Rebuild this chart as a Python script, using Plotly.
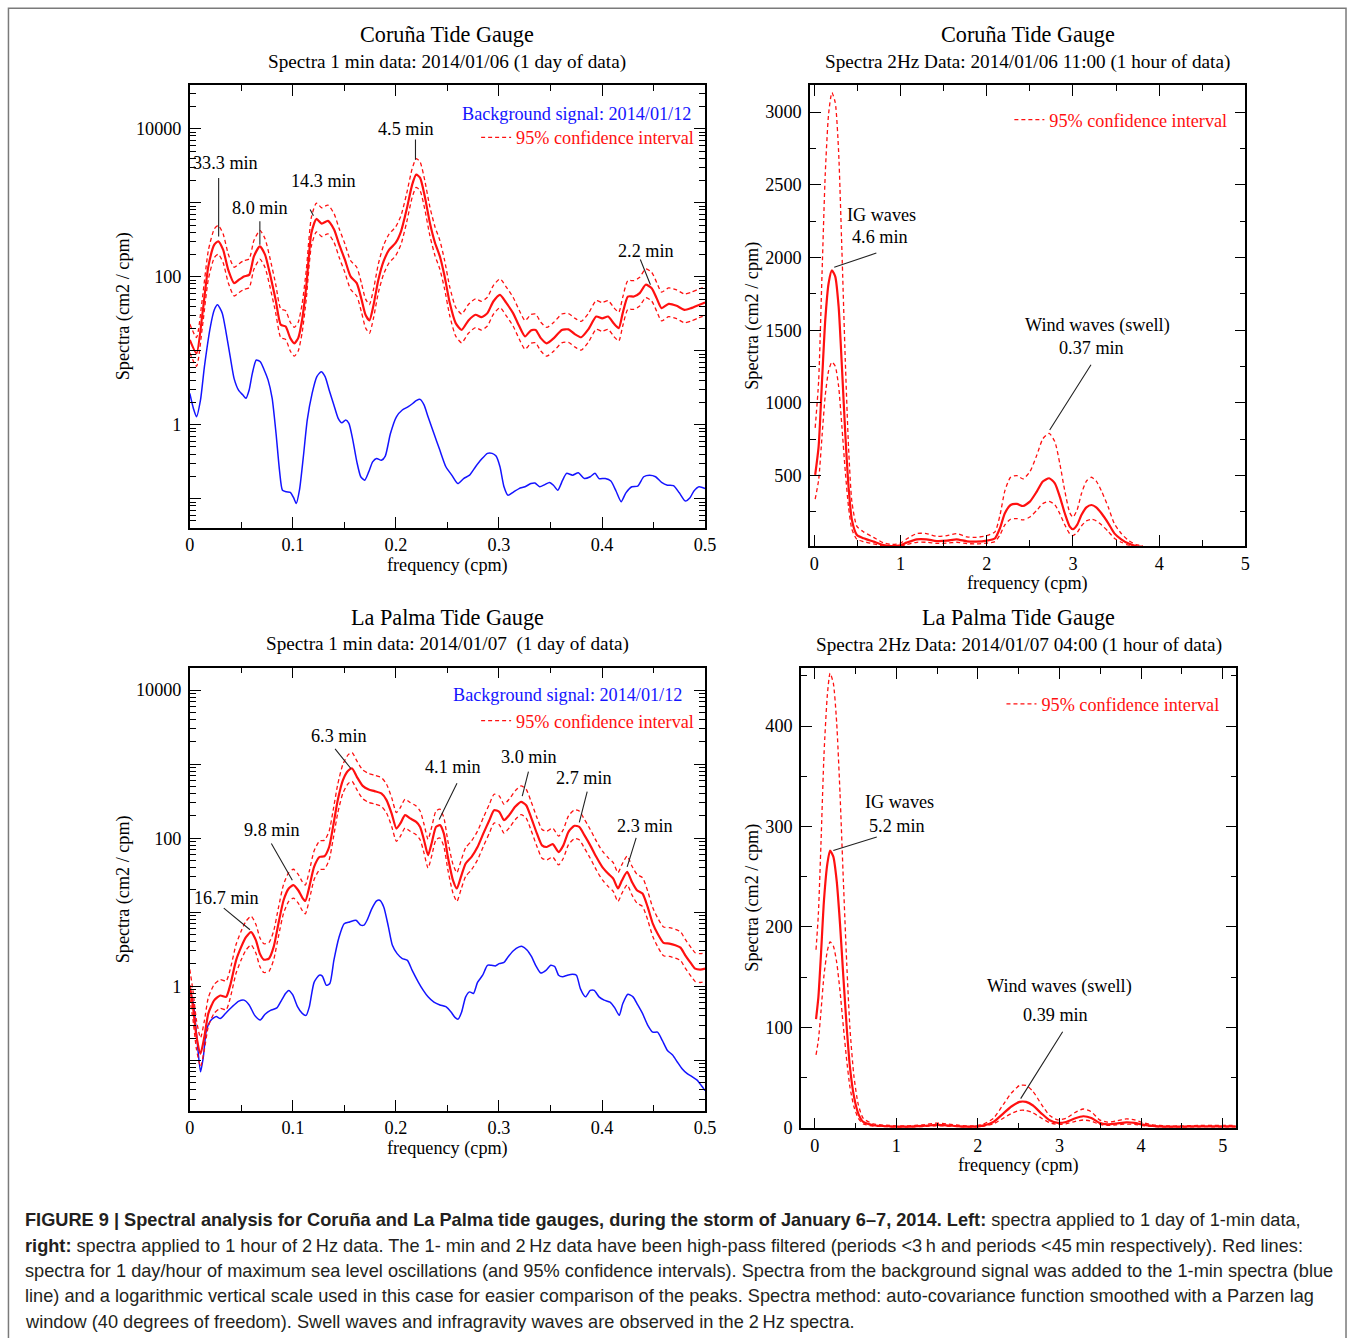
import math
import plotly.graph_objects as go

W, H = 1358, 1338

# ---------------------------------------------------------------------------
# Spectra (cm2/cpm) as (frequency in cpm, spectral density) pairs
# ---------------------------------------------------------------------------
# Coruña, 1-min data, 2014/01/06 (1 day)
coruna_1min = [
    (0.000, 14.0), (0.0065, 9.2), (0.0123, 32), (0.018, 138), (0.0238, 271),
    (0.0276, 301), (0.0323, 232), (0.0373, 124), (0.043, 82), (0.0476, 91),
    (0.0526, 101), (0.0576, 106), (0.0622, 188), (0.068, 258), (0.073, 199),
    (0.0776, 112), (0.0833, 49), (0.0883, 22.4), (0.093, 21.2), (0.0975, 14.8),
    (0.1014, 12.6), (0.1052, 14.8), (0.109, 26.2), (0.113, 74), (0.118, 390),
    (0.1229, 604), (0.128, 522), (0.134, 568), (0.14, 434), (0.145, 271),
    (0.1505, 170), (0.156, 101), (0.162, 82), (0.1667, 49), (0.1705, 30.6),
    (0.1743, 25.7), (0.178, 39.6), (0.183, 91), (0.188, 161), (0.1935, 232),
    (0.1997, 286), (0.205, 411), (0.2104, 808), (0.2158, 1762), (0.2197, 2404),
    (0.2235, 2168), (0.228, 1224), (0.233, 533), (0.238, 286), (0.2427, 188),
    (0.2473, 101), (0.2523, 44), (0.258, 23.6), (0.2638, 19.1), (0.2704, 25.7),
    (0.2773, 30.6), (0.283, 28.4), (0.2888, 32.2), (0.2945, 46.3), (0.301, 57),
    (0.3068, 44.9), (0.3137, 32.2), (0.3195, 21.7), (0.3253, 15.6), (0.331, 18.8),
    (0.3356, 19.1), (0.3406, 14.8), (0.3464, 12.6), (0.3533, 14.8), (0.361, 19.1),
    (0.3675, 19.4), (0.3733, 16.9), (0.3798, 15.2), (0.3867, 19.4), (0.3944, 29.0),
    (0.4002, 27.3), (0.4059, 29.0), (0.4117, 23.1), (0.4163, 20.2), (0.4201, 32.2),
    (0.4251, 54), (0.4309, 54), (0.4366, 60), (0.4424, 78), (0.4482, 70),
    (0.4531, 51), (0.4578, 37.7), (0.4647, 43), (0.4724, 40.5), (0.48, 35.7),
    (0.4866, 37.7), (0.4935, 41.3), (0.5, 44.9),
]

# Coruña background signal, 2014/01/12
coruna_background = [
    (0.000, 2.65), (0.0035, 1.66), (0.0065, 1.28), (0.0104, 2.16), (0.0142, 6.1),
    (0.02, 21.2), (0.0238, 35.7), (0.0269, 41.8), (0.0315, 32.2), (0.0353, 17.3),
    (0.0392, 8.3), (0.043, 4.2), (0.0476, 2.88), (0.0515, 2.52), (0.0545, 2.28),
    (0.0576, 2.95), (0.0607, 4.95), (0.0645, 7.5), (0.0684, 7.1), (0.0722, 5.5),
    (0.076, 4.0), (0.0799, 2.28), (0.0837, 0.76), (0.0872, 0.23), (0.0899, 0.13),
    (0.0937, 0.124), (0.0975, 0.122), (0.1006, 0.104), (0.1033, 0.086), (0.1064, 0.13),
    (0.1102, 0.37), (0.114, 1.16), (0.1187, 2.65), (0.1233, 4.47), (0.1275, 5.2),
    (0.1313, 4.47), (0.1352, 2.95), (0.1398, 1.85), (0.144, 1.22), (0.1475, 1.06),
    (0.1513, 1.16), (0.1544, 1.04), (0.1582, 0.62), (0.1621, 0.315), (0.1659, 0.198),
    (0.1697, 0.178), (0.1736, 0.23), (0.1774, 0.315), (0.1813, 0.35), (0.1859, 0.33),
    (0.1897, 0.377), (0.1947, 0.76), (0.2005, 1.28), (0.2062, 1.58), (0.212, 1.75),
    (0.2166, 1.95), (0.2197, 2.11), (0.2235, 2.2), (0.2273, 1.85), (0.2312, 1.28),
    (0.2369, 0.76), (0.2427, 0.45), (0.2485, 0.27), (0.2542, 0.208), (0.26, 0.16),
    (0.2657, 0.187), (0.2715, 0.208), (0.2773, 0.27), (0.283, 0.34), (0.2888, 0.41),
    (0.2934, 0.41), (0.2972, 0.377), (0.301, 0.27), (0.3049, 0.145), (0.3088, 0.111),
    (0.3137, 0.122), (0.3195, 0.137), (0.3253, 0.145), (0.331, 0.16), (0.3349, 0.163),
    (0.3395, 0.145), (0.3445, 0.155), (0.3491, 0.166), (0.3529, 0.152), (0.3571, 0.13),
    (0.3618, 0.178), (0.3656, 0.22), (0.3714, 0.208), (0.3771, 0.224), (0.3829, 0.187),
    (0.3886, 0.198), (0.3932, 0.22), (0.3971, 0.187), (0.4032, 0.187), (0.4086, 0.173),
    (0.4136, 0.127), (0.4186, 0.091), (0.4232, 0.12), (0.429, 0.145), (0.4347, 0.148),
    (0.4405, 0.198), (0.4462, 0.208), (0.452, 0.198), (0.4578, 0.166), (0.4635, 0.152),
    (0.4693, 0.15), (0.475, 0.12), (0.4808, 0.093), (0.4854, 0.103), (0.4892, 0.127),
    (0.4942, 0.145), (0.5, 0.137),
]

# La Palma, 1-min data, 2014/01/07 (1 day)
palma_1min = [
    (0.0, 1.03), (0.0031, 0.53), (0.0065, 0.21), (0.0104, 0.123), (0.0142, 0.21),
    (0.018, 0.43), (0.0238, 0.65), (0.0296, 0.75), (0.0353, 0.72), (0.0392, 1.03),
    (0.0449, 2.24), (0.0499, 3.4), (0.0545, 4.6), (0.0595, 5.4), (0.0641, 4.2),
    (0.068, 2.76), (0.0718, 2.29), (0.0768, 2.37), (0.0814, 3.4), (0.086, 7.0),
    (0.091, 14.5), (0.096, 20.9), (0.1006, 23.2), (0.1052, 19.8), (0.1091, 15.8),
    (0.1121, 14.2), (0.116, 22), (0.1206, 41), (0.126, 56), (0.1306, 57),
    (0.1352, 76), (0.139, 142), (0.1436, 327), (0.1486, 608), (0.1536, 813),
    (0.1575, 873), (0.1621, 674), (0.1678, 509), (0.1736, 455), (0.1793, 432),
    (0.1859, 402), (0.1909, 327), (0.1959, 215), (0.2005, 135), (0.2043, 158),
    (0.2089, 205), (0.2139, 185), (0.2197, 166), (0.2235, 142), (0.2273, 94),
    (0.2312, 59), (0.235, 89), (0.2389, 142), (0.2427, 150), (0.2465, 116),
    (0.2504, 56), (0.2554, 27), (0.2592, 20.9), (0.2631, 30), (0.2677, 45.5),
    (0.2734, 56), (0.2792, 76), (0.2849, 116), (0.2907, 175), (0.2953, 239),
    (0.3003, 227), (0.3049, 175), (0.3099, 205), (0.3157, 265), (0.3214, 310),
    (0.3264, 279), (0.331, 194), (0.3368, 116), (0.3418, 80), (0.3464, 76),
    (0.3522, 83), (0.3579, 65), (0.3625, 80), (0.3675, 122), (0.3733, 147),
    (0.3779, 142), (0.3829, 110), (0.3886, 80), (0.3944, 56), (0.4002, 41),
    (0.4059, 33.3), (0.4109, 28.5), (0.4155, 20.9), (0.4194, 27), (0.4244, 35),
    (0.429, 25.7), (0.4339, 19.8), (0.4393, 17.9), (0.4443, 11.8), (0.4493, 7.0),
    (0.4539, 5.15), (0.4597, 3.85), (0.4654, 3.77), (0.4712, 3.58), (0.4762, 3.32),
    (0.4808, 2.62), (0.4866, 2.02), (0.4904, 1.73), (0.4954, 1.68), (0.5, 1.73),
]

# La Palma background signal, 2014/01/12
palma_background = [
    (0.0, 0.93), (0.0035, 0.58), (0.0065, 0.23), (0.0104, 0.07), (0.0131, 0.11),
    (0.0161, 0.254), (0.0207, 0.35), (0.0257, 0.39), (0.0296, 0.366), (0.0346, 0.43),
    (0.0411, 0.53), (0.0476, 0.63), (0.0526, 0.65), (0.0576, 0.56), (0.063, 0.405),
    (0.0684, 0.35), (0.073, 0.42), (0.0783, 0.474), (0.0845, 0.51), (0.0891, 0.65),
    (0.0929, 0.8), (0.096, 0.88), (0.0998, 0.77), (0.1045, 0.53), (0.1091, 0.43),
    (0.1129, 0.405), (0.116, 0.53), (0.1206, 1.13), (0.1256, 1.41), (0.1286, 1.37),
    (0.1325, 1.03), (0.1359, 1.09), (0.1398, 2.24), (0.1448, 4.6), (0.1498, 7.0),
    (0.1551, 7.4), (0.1613, 7.8), (0.1659, 6.7), (0.169, 6.7), (0.172, 7.8),
    (0.1767, 11.2), (0.1813, 14.2), (0.1843, 14.5), (0.1882, 11.8), (0.1928, 6.3),
    (0.1966, 3.58), (0.2012, 2.76), (0.2062, 2.37), (0.2112, 2.24), (0.2158, 1.64),
    (0.2216, 1.15), (0.2266, 0.88), (0.2312, 0.72), (0.2369, 0.61), (0.2427, 0.56),
    (0.2485, 0.53), (0.2535, 0.45), (0.2573, 0.38), (0.2604, 0.36), (0.2638, 0.45),
    (0.2677, 0.72), (0.2715, 0.84), (0.2753, 0.8), (0.2792, 1.13), (0.2842, 1.41),
    (0.2888, 1.92), (0.2926, 1.92), (0.2965, 1.88), (0.3003, 2.02), (0.3049, 2.1),
    (0.3088, 2.49), (0.3137, 3.0), (0.3195, 3.4), (0.3226, 3.45), (0.3272, 3.1),
    (0.3318, 2.49), (0.3356, 1.92), (0.3406, 1.51), (0.3456, 1.64), (0.3502, 1.92),
    (0.3541, 1.85), (0.3579, 1.41), (0.3618, 1.35), (0.3664, 1.41), (0.3714, 1.45),
    (0.3752, 1.41), (0.379, 0.93), (0.384, 0.72), (0.3886, 0.88), (0.3925, 0.88),
    (0.3971, 0.72), (0.4021, 0.65), (0.4078, 0.61), (0.4124, 0.51), (0.4167, 0.405),
    (0.4201, 0.58), (0.4251, 0.78), (0.4301, 0.72), (0.4347, 0.56), (0.4393, 0.43),
    (0.4443, 0.3), (0.4493, 0.24), (0.4539, 0.24), (0.4585, 0.186), (0.4635, 0.136),
    (0.4685, 0.118), (0.4731, 0.095), (0.4777, 0.077), (0.4827, 0.066), (0.4877, 0.06),
    (0.4923, 0.054), (0.4962, 0.046), (0.5, 0.039),
]

# Coruña, 2 Hz data, 2014/01/06 11:00 (1 hour)
coruna_2hz = [
    (0.01, 505), (0.05, 700), (0.09, 1158), (0.127, 1571), (0.166, 1823),
    (0.204, 1911), (0.243, 1869), (0.282, 1663), (0.32, 1250), (0.359, 791),
    (0.397, 424), (0.436, 195), (0.494, 92), (0.571, 69), (0.687, 46),
    (0.802, 23), (0.9, 16), (0.995, 21), (1.07, 39), (1.19, 62),
    (1.30, 62), (1.42, 50), (1.54, 53), (1.65, 62), (1.77, 48),
    (1.88, 46), (2.0, 53), (2.095, 69), (2.153, 138), (2.21, 241),
    (2.276, 298), (2.35, 305), (2.42, 291), (2.5, 321), (2.58, 390),
    (2.65, 459), (2.724, 482), (2.79, 447), (2.847, 356), (2.905, 241),
    (2.963, 149), (3.0, 131), (3.048, 161), (3.098, 229), (3.156, 282),
    (3.214, 298), (3.27, 282), (3.33, 241), (3.41, 172), (3.48, 103),
    (3.56, 62), (3.64, 34), (3.73, 16), (3.81, 11),
]

# La Palma, 2 Hz data, 2014/01/07 04:00 (1 hour)
palma_2hz = [
    (0.016, 108), (0.045, 130), (0.077, 173), (0.114, 227), (0.155, 263),
    (0.188, 276), (0.228, 270), (0.269, 246), (0.31, 203), (0.351, 150),
    (0.392, 100), (0.432, 60), (0.481, 31), (0.534, 14), (0.595, 5.6),
    (0.718, 2.3), (0.92, 1.3), (1.126, 1.0), (1.33, 1.7), (1.49, 2.7),
    (1.615, 2.3), (1.78, 1.3), (1.94, 1.0), (2.06, 2.0), (2.19, 5.6),
    (2.31, 14), (2.41, 21), (2.51, 25.6), (2.59, 25.6), (2.675, 22),
    (2.78, 14), (2.88, 7.3), (2.98, 4.7), (3.08, 5.6), (3.185, 9),
    (3.29, 11.3), (3.39, 9.6), (3.49, 4.7), (3.59, 3.3), (3.695, 4.0),
    (3.82, 5.3), (3.92, 4.7), (4.02, 3.0), (4.14, 1.7), (4.31, 1.0),
    (4.51, 1.0), (4.71, 1.3), (4.88, 1.3), (5.04, 1.3), (5.16, 1.3),
]

# 95% chi-square confidence bounds for 40 degrees of freedom (ratio to estimate)
CI_UPPER = 1.64
CI_LOWER = 0.67

# Peak labels: (text, text position, leader start, leader end)
coruna_1min_labels = [
    ("33.3 min", (0.035, 3440), (0.028, 2260), (0.028, 350)),
    ("8.0 min", (0.068, 850), (0.068, 590), (0.068, 270)),
    ("14.3 min", (0.13, 1980), (0.116, 850), (0.12, 667)),
    ("4.5 min", (0.21, 9900), (0.219, 7480), (0.219, 3810)),
    ("2.2 min", (0.443, 220), (0.4366, 179), (0.447, 78)),
]
palma_1min_labels = [
    ("6.3 min", (0.1448, 2390), (0.1398, 1680), (0.1563, 873)),
    ("4.1 min", (0.255, 920), (0.26, 577), (0.242, 179)),
    ("3.0 min", (0.3295, 1256), (0.329, 830), (0.3226, 370)),
    ("2.7 min", (0.3825, 653), (0.386, 446), (0.378, 163)),
    ("2.3 min", (0.4416, 147), (0.4336, 106), (0.4244, 41)),
    ("9.8 min", (0.0799, 128), (0.0783, 89), (0.0995, 27)),
    ("16.7 min", (0.0357, 15.8), (0.0315, 11.8), (0.0584, 5.8)),
]
coruna_2hz_labels = [
    (["IG waves", "4.6 min"], [(0.776, 2294), (0.76, 2144)], (0.737, 2034), (0.231, 1933)),
    (["Wind waves (swell)", "0.37 min"], [(3.283, 1530), (3.22, 1381)], (3.22, 1273), (2.73, 814)),
]
palma_2hz_labels = [
    (["IG waves", "5.2 min"], [(1.04, 324), (1.007, 300)], (0.779, 290), (0.228, 276)),
    (["Wind waves (swell)", "0.39 min"], [(3.0, 141), (2.945, 112)], (3.05, 97), (2.524, 28.9)),
]

BACKGROUND_LABEL = "Background signal: 2014/01/12"
CI_LABEL = "95% confidence interval"

SERIF = "Liberation Serif, Times New Roman, serif"
SANS = "Liberation Sans, Arial, sans-serif"
RED = "#ff1010"
BLUE = "#1414ff"
FS = 18.2  # body text size for ticks, labels and legends


def hx(px):
    return px / W


def vy(py):
    return 1 - py / H


fig = go.Figure()


def add_spectrum(data, xa, ya, legend_name):
    f = [p[0] for p in data]
    s = [p[1] for p in data]
    up = [v * CI_UPPER for v in s]
    lo = [v * CI_LOWER for v in s]
    dash = dict(color=RED, width=1.3, dash="4px,3px", shape="spline", smoothing=0.6)
    fig.add_trace(go.Scatter(x=f, y=up, mode="lines", line=dash, name=CI_LABEL,
                             showlegend=True, legend=legend_name, xaxis=xa, yaxis=ya,
                             hoverinfo="skip"))
    fig.add_trace(go.Scatter(x=f, y=lo, mode="lines", line=dash, showlegend=False,
                             xaxis=xa, yaxis=ya, hoverinfo="skip"))
    fig.add_trace(go.Scatter(x=f, y=s, mode="lines", showlegend=False,
                             line=dict(color=RED, width=2.2, shape="spline", smoothing=0.6),
                             xaxis=xa, yaxis=ya))


def add_background(data, xa, ya):
    fig.add_trace(go.Scatter(x=[p[0] for p in data], y=[p[1] for p in data], mode="lines",
                             showlegend=False,
                             line=dict(color=BLUE, width=1.5, shape="spline", smoothing=0.6),
                             xaxis=xa, yaxis=ya))


add_background(coruna_background, "x", "y")
add_spectrum(coruna_1min, "x", "y", "legend")
add_spectrum(coruna_2hz, "x2", "y2", "legend2")
add_background(palma_background, "x3", "y3")
add_spectrum(palma_1min, "x3", "y3", "legend3")
add_spectrum(palma_2hz, "x4", "y4", "legend4")

tickfont = dict(family=SERIF, size=FS, color="black")


def axis_style(**kw):
    base = dict(showline=True, linecolor="black", linewidth=1.5, mirror="ticks",
                ticks="inside", ticklen=11, tickwidth=1.3, tickcolor="black",
                showgrid=False, zeroline=False, tickfont=tickfont)
    base.update(kw)
    return base


log_minor = [k * 10 ** d for d in range(-2, 5) for k in range(2, 10)]
log_major = [0.1, 1, 10, 100, 1000, 10000]
log_text = ["", "1", "", "100", "", "10000"]
minor_lin = lambda step: dict(dtick=step, ticks="inside", ticklen=6, tickwidth=1.1,
                             tickcolor="black", showgrid=False)
minor_log = dict(tickmode="array", tickvals=log_minor, ticks="inside", ticklen=6,
                 tickwidth=1.1, tickcolor="black", showgrid=False)

# panel frames in pixels: (left, right), (top, bottom)
LEFT_X = (187.0, 708.4)
RIGHT_TOP_X = (814.6, 1255.2)
RIGHT_BOTTOM_X = (805.5, 1246.1)
TOP_Y = (85.4, 531.5)
TOP_RIGHT_Y = (85.4, 550.1)
BOTTOM_LEFT_Y = (672.6, 1119.2)
BOTTOM_RIGHT_Y = (673.1, 1136.8)


def xdom(b):
    return [hx(b[0]), hx(b[1])]


def ydom(b):
    return [vy(b[1]), vy(b[0])]


fig.update_layout(
    width=W, height=H, autosize=False,
    margin=dict(l=0, r=0, t=0, b=0),
    paper_bgcolor="white", plot_bgcolor="white",
    xaxis=axis_style(domain=xdom(LEFT_X), range=[0, 0.5], dtick=0.1,
                     minor=minor_lin(0.05), anchor="y"),
    yaxis=axis_style(domain=ydom(TOP_Y), type="log", range=[-1.39, 4.595],
                     tickvals=log_major, ticktext=log_text, minor=minor_log, anchor="x",
                     ticklabelstandoff=3),
    xaxis2=axis_style(domain=xdom(RIGHT_TOP_X), range=[-0.05, 5], dtick=1,
                      minor=minor_lin(0.5), anchor="y2"),
    yaxis2=axis_style(domain=ydom(TOP_RIGHT_Y), range=[16, 3188], dtick=500,
                      minor=minor_lin(250), anchor="x2", ticklabelstandoff=3),
    xaxis3=axis_style(domain=xdom(LEFT_X), range=[0, 0.5], dtick=0.1,
                      minor=minor_lin(0.05), anchor="y3"),
    yaxis3=axis_style(domain=ydom(BOTTOM_LEFT_Y), type="log", range=[-1.682, 4.304],
                      tickvals=log_major, ticktext=log_text, minor=minor_log, anchor="x3",
                      ticklabelstandoff=3),
    xaxis4=axis_style(domain=xdom(RIGHT_BOTTOM_X), range=[-0.168, 5.168], dtick=1,
                      minor=minor_lin(0.5), anchor="y4"),
    yaxis4=axis_style(domain=ydom(BOTTOM_RIGHT_Y), range=[-0.7, 457.8], dtick=100,
                      minor=minor_lin(50), anchor="x4", ticklabelstandoff=3),
)

legend_style = dict(font=dict(family=SERIF, size=FS, color=RED), bgcolor="rgba(0,0,0,0)",
                    borderwidth=0, itemwidth=30, xanchor="right", yanchor="middle",
                    tracegroupgap=0)
fig.update_layout(
    legend=dict(x=hx(702.4), y=vy(138.5), **legend_style),
    legend2=dict(x=hx(1242), y=vy(120.7), **legend_style),
    legend3=dict(x=hx(702.4), y=vy(726.2), **legend_style),
    legend4=dict(x=hx(1234), y=vy(709.4), **legend_style),
)

ann = []
shapes = []


def text(xref, yref, x, y, s, size=FS, color="black", **kw):
    d = dict(xref=xref, yref=yref, x=x, y=y, text=s, showarrow=False,
             xanchor="center", yanchor="middle",
             font=dict(family=SERIF, size=size, color=color))
    d.update(kw)
    ann.append(d)


def leader(xref, yref, p0, p1):
    ann.append(dict(xref=xref, yref=yref, axref=xref, ayref=yref,
                    x=p1[0], y=p1[1], ax=p0[0], ay=p0[1], text="", showarrow=True,
                    arrowhead=0, arrowwidth=1.1, arrowcolor="#222", standoff=0,
                    startstandoff=0))


def lg(v):
    return math.log10(v)


# peak labels on the logarithmic 1-min panels
for xa, ya, labels in (("x", "y", coruna_1min_labels), ("x3", "y3", palma_1min_labels)):
    for s, (tx, ty), p0, p1 in labels:
        text(xa, ya, tx, lg(ty), s)
        leader(xa, ya, (p0[0], lg(p0[1])), (p1[0], lg(p1[1])))

# wave labels on the linear 2 Hz panels
for xa, ya, labels in (("x2", "y2", coruna_2hz_labels), ("x4", "y4", palma_2hz_labels)):
    for lines, pos, p0, p1 in labels:
        for s, (tx, ty) in zip(lines, pos):
            text(xa, ya, tx, ty, s)
        leader(xa, ya, p0, p1)

# background-signal legend text (blue)
text("x domain", "y domain", 0.977, 0.934, BACKGROUND_LABEL, color=BLUE, xanchor="right")
text("x3 domain", "y3 domain", 0.959, 0.9375, BACKGROUND_LABEL, color=BLUE, xanchor="right")

# panel titles, subtitles and axis titles: (axes, title, subtitle, y-title gap)
panels = [
    ("x", "y", "Coruña Tide Gauge", "Spectra 1 min data: 2014/01/06 (1 day of data)", 66.7),
    ("x2", "y2", "Coruña Tide Gauge", "Spectra 2Hz Data: 2014/01/06 11:00 (1 hour of data)", 57.6),
    ("x3", "y3", "La Palma Tide Gauge", "Spectra 1 min data: 2014/01/07\u00a0 (1 day of data)", 66.7),
    ("x4", "y4", "La Palma Tide Gauge", "Spectra 2Hz Data: 2014/01/07 04:00 (1 hour of data)", 48.5),
]
for xa, ya, title, sub, ygap in panels:
    xd, yd = xa + " domain", ya + " domain"
    text(xd, yd, 0.5, 1, title, size=22.2, yshift=50.4)
    text(xd, yd, 0.5, 1, sub, size=19.2, yshift=23.2)
    text(xd, yd, 0.5, 0, "frequency (cpm)", yshift=-37.5)
    text(xd, yd, 0, 0.5, "Spectra (cm2 / cpm)", textangle=-90, xshift=-ygap)

# figure caption
caption = [
    "<b>FIGURE 9 | Spectral analysis for Coruña and La Palma tide gauges, during the storm of "
    "January 6–7, 2014. Left:</b> spectra applied to 1 day of 1-min data,",
    "<b>right:</b> spectra applied to 1 hour of 2\u2009Hz data. The 1- min and 2\u2009Hz data have "
    "been high-pass filtered (periods &lt;3\u2009h and periods &lt;45\u2009min respectively). Red lines:",
    "spectra for 1 day/hour of maximum sea level oscillations (and 95% confidence intervals). "
    "Spectra from the background signal was added to the 1-min spectra (blue",
    "line) and a logarithmic vertical scale used in this case for easier comparison of the peaks. "
    "Spectra method: auto-covariance function smoothed with a Parzen lag",
    "window (40 degrees of freedom). Swell waves and infragravity waves are observed in the "
    "2\u2009Hz spectra.",
]
for i, line in enumerate(caption):
    ann.append(dict(xref="paper", yref="paper", x=hx(18.2), y=vy(1229.6 + 25.5 * i),
                    xanchor="left", yanchor="middle", showarrow=False, text=line,
                    font=dict(family=SANS, size=18.2, color="#231f20")))

# frame around the whole figure
shapes.append(dict(type="rect", xref="paper", yref="paper", x0=hx(3.5), x1=hx(1357),
                   y0=vy(1360), y1=vy(8.3), line=dict(color="#7a7a7a", width=1.5)))

fig.update_layout(annotations=ann, shapes=shapes)
fig.write_html("out.html")
